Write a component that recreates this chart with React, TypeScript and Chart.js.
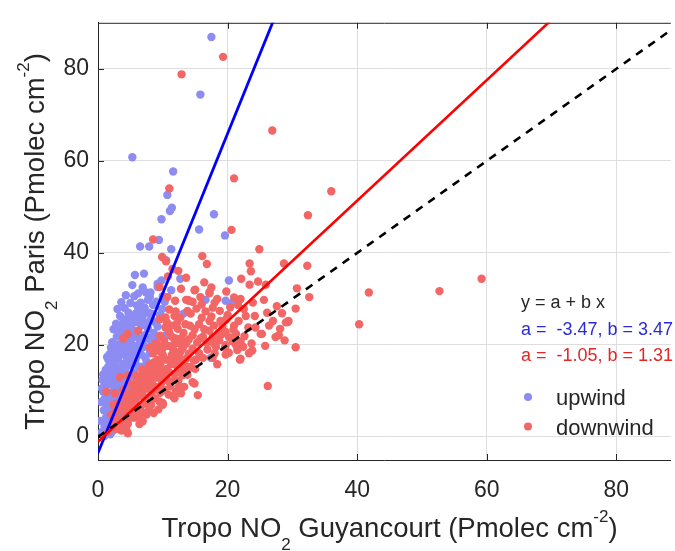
import React, { useEffect, useRef } from 'react';
import { Chart, registerables } from 'chart.js';

Chart.register(...registerables);

const FONT = '"Liberation Sans", Arial, Helvetica, sans-serif';
const TEXT_COLOR = '#262626';

const X_MIN = 0;
const X_MAX = 88.4;
const Y_MIN = -5;
const Y_MAX = 90;
const xTicks = [0, 20, 40, 60, 80];
const yTicks = [0, 20, 40, 60, 80];

const seriesLabels = ['upwind', 'downwind'];
const fitA = [-3.47, -1.05];
const fitB = [3.47, 1.31];

const upwindPoints: [number, number][] = [
  [17.5, 86.9], [15.8, 74.4], [5.3, 60.8], [11.6, 57.7], [10.7, 52.6], [11.4, 49.8], [11.1, 49.1], [9.8, 47.3],
  [17.9, 48.4], [15.6, 45.1], [19.6, 43.8], [6.5, 41.4], [7.9, 41.4], [9.4, 42.8], [11.3, 40.8], [10.5, 38.4],
  [5.7, 35.2], [7.1, 35.5], [12.7, 34.4], [20.2, 34.0], [6.9, 32.5], [9.2, 33.3], [9.8, 34.0], [9.2, 32.6],
  [11.3, 31.9], [8.0, 30.5], [7.7, 29.8], [9.0, 29.4], [10.3, 29.4], [16.6, 29.8], [19.7, 29.6], [21.0, 29.4],
  [20.7, 29.1], [8.5, 28.7], [7.2, 28.1], [6.2, 27.3], [4.7, 27.0], [3.4, 26.3], [6.9, 26.3], [8.2, 25.6],
  [5.7, 24.9], [6.7, 24.2], [7.7, 23.5], [4.6, 23.1], [5.9, 22.1], [7.2, 22.1], [10.5, 22.1], [4.1, 21.0],
  [5.1, 20.3], [6.2, 20.0], [7.2, 19.6], [8.2, 20.7], [2.6, 18.9], [3.9, 18.6], [5.1, 18.2], [6.7, 17.9],
  [8.0, 18.2], [9.5, 19.3], [10.3, 20.0], [1.6, 16.8], [3.1, 16.8], [4.6, 16.5], [13.2, 26.8], [17.4, 17.2],
  [2.6, 15.8], [3.6, 15.1], [1.6, 13.0], [1.1, 10.9], [1.8, 6.7], [2.3, 4.6], [3.1, 1.8], [1.1, 3.2],
  [0.6, 1.1], [0.8, 9.8], [0.3, 3.5], [2.1, 14.2], [2.9, 13.6], [3.8, 13.0], [4.5, 12.4], [2.4, 12.0],
  [3.3, 11.2], [1.9, 11.5], [2.7, 10.1], [3.6, 9.6], [1.5, 8.8], [2.2, 8.0], [3.0, 7.7], [1.3, 7.1],
  [2.6, 6.0], [3.4, 5.2], [1.6, 5.0], [2.0, 3.5], [2.8, 2.9], [1.4, 1.9], [2.2, 1.2], [0.9, 5.8],
  [4.2, 14.4], [5.0, 15.6], [5.6, 14.0], [4.8, 10.8], [3.9, 8.3], [4.4, 17.4], [5.8, 16.8], [6.4, 18.9],
  [7.0, 21.1], [3.3, 20.1], [2.9, 21.8], [3.8, 22.5], [2.4, 23.4], [3.6, 24.3], [4.4, 25.2], [5.2, 26.0],
  [2.2, 20.6], [1.8, 18.0], [5.4, 21.6], [6.1, 23.0], [8.9, 24.8], [9.6, 26.5], [7.8, 27.0], [6.0, 28.6],
  [5.0, 29.1], [4.1, 28.0], [8.1, 31.4], [10.0, 30.6], [9.9, 27.8], [8.6, 22.6], [9.0, 21.2], [7.5, 16.4],
  [6.8, 15.2], [3.2, 19.6], [4.7, 19.8], [2.0, 16.1], [1.2, 14.6], [0.7, 12.4], [1.0, 2.4], [1.9, 0.6],
  [0.5, 7.6], [1.0, 0.2], [4.3, 30.8], [3.0, 27.8], [5.3, 33.0], [6.2, 31.2],
  [1.2, 4.2], [1.7, 2.6], [2.5, 2.2], [3.2, 3.6], [2.9, 5.4], [2.1, 6.2], [1.0, 8.2], [1.8, 9.6],
  [2.9, 8.8], [3.7, 10.6], [2.4, 11.0], [1.4, 12.2], [2.5, 13.1], [3.4, 14.2], [1.6, 15.3], [2.9, 15.0],
  [4.0, 15.9], [2.3, 17.4], [3.4, 17.8], [5.0, 17.2], [2.0, 19.4], [3.0, 18.2], [4.2, 19.2], [5.6, 19.0],
  [2.6, 20.0], [3.8, 20.6], [4.8, 21.6], [6.4, 21.3], [3.2, 22.8], [4.3, 23.8], [5.3, 23.3], [2.8, 24.6],
  [3.9, 25.6], [5.0, 24.4], [6.4, 25.6], [7.3, 24.9], [4.8, 26.6], [5.9, 26.9], [7.0, 27.6], [3.6, 29.3],
  [5.6, 30.6], [7.4, 31.4], [6.6, 29.2], [8.3, 26.8], [9.2, 24.0], [8.0, 21.6], [6.0, 17.6], [7.3, 17.2],
  [6.2, 15.4], [5.2, 13.2], [4.3, 11.4], [3.6, 12.1], [4.6, 9.5], [3.0, 6.6], [2.0, 4.4], [4.0, 2.6],
  [0.8, 13.6], [1.4, 17.4], [0.6, 10.6],
];

const downwindPoints: [number, number][] = [
  [19.3, 82.6], [12.9, 78.8], [26.9, 66.6], [21.0, 56.2], [36.0, 53.4], [11.0, 54.0], [32.4, 48.2], [20.6, 45.0],
  [8.5, 42.9], [24.9, 40.8], [9.9, 39.1], [10.5, 38.2], [16.1, 39.3], [16.8, 37.6], [23.4, 37.7], [23.6, 36.0],
  [28.7, 37.7], [32.3, 37.2], [12.4, 36.1], [11.5, 36.5], [22.1, 34.4], [41.8, 31.4], [40.3, 24.5], [52.7, 31.7],
  [59.2, 34.4], [30.7, 32.3], [32.6, 30.4], [30.5, 27.9], [29.3, 25.0], [30.5, 19.5], [26.2, 11.1], [21.9, 16.8],
  [18.4, 15.8], [15.4, 9.1], [14.9, 11.6], [13.3, 10.9], [24.7, 33.8], [23.4, 33.1], [25.9, 33.1], [15.0, 32.0],
  [17.5, 32.5], [17.2, 31.2], [14.0, 29.6], [18.4, 30.0], [21.0, 30.3], [21.6, 28.7], [16.6, 27.3], [24.2, 26.3],
  [26.1, 27.0], [27.0, 25.2], [29.0, 24.9], [13.5, 24.5], [15.6, 24.5], [17.9, 24.2], [18.9, 25.2], [23.2, 23.8],
  [25.1, 22.4], [27.9, 22.1], [19.7, 22.8], [20.2, 21.7], [22.0, 20.7], [23.7, 20.3], [17.7, 21.7], [18.7, 21.0],
  [14.6, 22.1], [13.6, 20.3], [19.7, 20.0], [18.2, 19.6], [21.5, 18.9], [23.3, 18.2], [19.7, 17.9], [17.7, 17.2],
  [15.6, 18.2], [15.1, 16.8], [9.5, 32.6], [11.0, 27.7], [11.8, 26.3], [9.5, 25.6], [12.3, 23.5], [4.6, 22.4],
  [6.2, 23.1], [3.9, 21.4], [11.3, 24.2], [11.8, 20.3], [12.6, 18.2], [10.0, 19.3], [8.5, 18.2], [9.2, 16.8],
  [10.5, 16.8], [13.9, 29.8], [14.9, 31.9], [3.4, 13.0], [4.6, 13.3], [5.9, 13.3], [7.2, 14.0], [8.5, 13.7],
  [9.8, 14.4], [11.3, 15.8], [12.3, 15.1], [11.8, 13.7], [1.3, 9.8], [2.6, 9.5], [3.9, 10.2], [5.2, 9.8],
  [6.4, 10.2], [7.7, 10.5], [9.0, 10.9], [10.3, 10.2], [3.1, 7.4], [4.4, 7.7], [5.7, 7.4], [7.2, 7.4],
  [10.0, 7.4], [11.6, 8.8], [12.8, 9.5], [2.6, 5.3], [4.1, 4.9], [6.2, 5.3], [4.6, 2.8], [6.4, 2.8],
  [3.6, 1.4], [1.6, 1.1], [4.4, 1.4], [4.6, 0.8], [23.8, 18.8], [22.0, 17.0], [14.6, 11.9], [12.0, 9.8],
  [11.8, 8.4], [9.5, 7.7], [10.0, 7.0], [7.5, 4.9], [6.2, 5.6], [27.4, 21.7], [28.1, 23.5], [29.4, 25.2],
  [25.3, 22.4], [24.3, 23.8], [21.3, 22.4], [22.8, 26.3], [17.7, 28.1], [14.6, 29.4], [13.6, 29.8], [12.0, 27.3],
  [16.4, 33.6], [17.2, 31.5], [5.0, 11.5], [6.0, 12.0], [6.8, 11.6], [7.6, 12.6], [8.3, 11.8], [9.1, 12.9],
  [10.6, 12.5], [11.2, 11.0], [12.4, 12.2], [13.8, 13.5], [14.2, 15.2], [13.0, 16.6], [12.0, 17.2], [14.0, 18.1],
  [16.9, 19.0], [15.3, 20.5], [16.2, 21.8], [14.9, 23.4], [13.2, 22.6], [12.0, 21.4], [11.0, 22.7], [10.4, 23.8],
  [9.6, 22.0], [8.9, 20.4], [8.0, 19.4], [7.9, 15.6], [9.0, 15.0], [10.0, 17.8], [11.6, 19.0], [13.1, 19.4],
  [12.7, 14.6], [11.0, 14.0], [9.9, 12.0], [8.2, 9.2], [7.0, 8.8], [6.0, 8.5], [5.0, 8.2], [4.2, 6.4],
  [5.3, 6.0], [3.0, 4.0], [2.2, 2.6], [3.5, 3.0], [8.8, 8.4], [9.6, 9.6], [10.9, 9.2], [12.5, 11.0],
  [20.2, 18.3], [19.6, 19.4], [21.3, 20.0], [22.6, 21.9], [20.9, 23.3], [19.2, 24.1], [17.2, 23.1], [16.0, 25.9],
  [17.5, 26.2], [18.8, 27.4], [20.0, 26.5], [21.7, 25.2], [22.5, 27.8], [19.8, 31.6], [15.8, 30.4], [12.8, 32.2],
  [13.6, 34.6], [10.8, 34.9], [7.5, 11.2], [2.4, 7.0], [4.7, 3.8], [5.6, 4.2], [7.9, 6.3], [8.6, 5.2],
  [6.9, 3.4], [9.3, 6.0], [10.4, 26.0], [12.7, 25.9], [14.3, 26.8], [15.2, 27.9], [11.9, 29.6], [10.7, 30.4],
  [23.9, 29.2], [25.6, 29.8], [27.6, 28.4], [26.4, 24.2], [28.4, 26.9], [25.8, 19.8], [28.8, 21.0],
  [2.0, 4.8], [3.0, 5.8], [3.8, 6.9], [5.0, 7.0], [6.6, 6.6], [8.2, 7.0], [4.2, 8.8], [5.6, 9.0],
  [6.8, 9.6], [8.4, 10.0], [9.6, 11.0], [5.8, 10.8], [7.0, 11.0], [8.2, 12.6], [10.2, 13.4], [11.8, 12.4],
  [13.0, 13.4], [6.6, 13.2], [7.8, 13.6], [9.2, 14.0], [10.6, 14.8], [12.0, 15.8], [13.4, 15.6], [6.8, 14.6],
  [8.0, 15.0], [9.6, 15.8], [11.0, 16.8], [13.6, 17.0], [8.6, 16.2], [9.8, 16.6], [11.4, 17.8], [12.8, 18.8],
  [14.6, 19.2], [8.4, 19.0], [9.6, 18.6], [10.8, 19.8], [12.4, 20.4], [14.0, 21.2], [15.8, 21.4], [9.2, 20.0],
  [10.2, 21.0], [11.4, 21.8], [12.8, 21.4], [16.8, 20.6], [17.8, 20.4], [18.6, 22.6], [16.4, 23.4], [14.2, 24.2],
  [12.2, 24.8], [10.6, 25.0], [17.2, 25.2], [19.8, 25.6], [21.0, 24.2], [13.8, 27.4], [16.0, 28.8], [18.0, 29.2],
  [20.4, 28.2], [22.0, 30.0], [19.0, 22.2], [20.8, 20.8], [22.4, 19.6], [18.0, 18.2], [16.2, 17.2], [14.8, 16.6],
  [15.0, 14.8], [13.8, 14.4], [11.0, 12.0], [7.2, 5.2], [8.0, 8.0], [6.4, 4.2], [5.0, 5.2], [3.8, 3.6],
  [2.8, 1.8], [2.4, 3.8],
];

const fitHeader = 'y = a + b x';
const fitTextColors = ['#2b2bd6', '#e32626'];
const pointColors = ['#8c8cf2', '#f26666'];
const lineColors = ['#0000ff', '#ff0000'];

type Part = { t: string; s: number };
const xTitleParts: Part[] = [
  { t: 'Tropo NO', s: 0 }, { t: '2', s: -1 }, { t: ' Guyancourt (Pmolec cm', s: 0 }, { t: '-2', s: 1 }, { t: ')', s: 0 },
];
const yTitleParts: Part[] = [
  { t: 'Tropo NO', s: 0 }, { t: '2', s: -1 }, { t: ' Paris (Pmolec cm', s: 0 }, { t: '-2', s: 1 }, { t: ')', s: 0 },
];

const TITLE_SIZE = 27.5;
const SCRIPT_SIZE = 17;

function drawRich(ctx: CanvasRenderingContext2D, parts: Part[]) {
  const fontFor = (p: Part) => `${p.s === 0 ? TITLE_SIZE : SCRIPT_SIZE}px ${FONT}`;
  let total = 0;
  for (const p of parts) {
    ctx.font = fontFor(p);
    total += ctx.measureText(p.t).width;
  }
  let x = -total / 2;
  ctx.textBaseline = 'alphabetic';
  ctx.textAlign = 'left';
  for (const p of parts) {
    ctx.font = fontFor(p);
    const dy = p.s === -1 ? 13 : p.s === 1 ? -15 : 0;
    ctx.fillText(p.t, x, dy);
    x += ctx.measureText(p.t).width;
  }
}

const decorPlugin = {
  id: 'decor',
  beforeDatasetsDraw(chart: any) {
    const { ctx, chartArea: ca, scales } = chart;
    ctx.save();
    ctx.strokeStyle = TEXT_COLOR;
    ctx.lineWidth = 1;
    ctx.beginPath();
    ctx.moveTo(ca.left, ca.top + 0.5);
    ctx.lineTo(ca.right, ca.top + 0.5);
    for (const v of xTicks) {
      const px = Math.round(scales.x.getPixelForValue(v)) + 0.5;
      ctx.moveTo(px, ca.bottom);
      ctx.lineTo(px, ca.bottom - 6);
      ctx.moveTo(px, ca.top);
      ctx.lineTo(px, ca.top + 6);
    }
    for (const v of yTicks) {
      const py = Math.round(scales.y.getPixelForValue(v)) + 0.5;
      ctx.moveTo(ca.left, py);
      ctx.lineTo(ca.left + 6, py);
    }
    ctx.stroke();
    ctx.restore();
  },
  afterDraw(chart: any) {
    const { ctx, chartArea: ca, scales } = chart;
    ctx.save();
    ctx.fillStyle = TEXT_COLOR;
    const xCenter = (scales.x.getPixelForValue(0) + scales.x.getPixelForValue(90)) / 2;
    ctx.save();
    ctx.translate(xCenter, 537);
    drawRich(ctx, xTitleParts);
    ctx.restore();
    ctx.save();
    ctx.translate(44, (ca.top + ca.bottom) / 2);
    ctx.rotate(-Math.PI / 2);
    drawRich(ctx, yTitleParts);
    ctx.restore();

    ctx.textAlign = 'left';
    ctx.textBaseline = 'alphabetic';
    ctx.font = `18px ${FONT}`;
    const tx = 521;
    ctx.fillStyle = TEXT_COLOR;
    ctx.fillText(fitHeader, tx, 308);
    for (let i = 0; i < seriesLabels.length; i++) {
      ctx.fillStyle = fitTextColors[i];
      ctx.fillText(`a =  ${fitA[i].toFixed(2)}, b = ${fitB[i].toFixed(2)}`, tx, 335 + i * 26);
    }
    ctx.font = `22px ${FONT}`;
    for (let i = 0; i < seriesLabels.length; i++) {
      const cy = 397 + i * 29.5;
      ctx.fillStyle = pointColors[i];
      ctx.beginPath();
      ctx.arc(528, cy, 4, 0, Math.PI * 2);
      ctx.fill();
      ctx.fillStyle = TEXT_COLOR;
      ctx.fillText(seriesLabels[i], 556, cy + 8);
    }
    ctx.restore();
  },
};

function fitLine(i: number) {
  return [
    { x: X_MIN, y: fitA[i] + fitB[i] * X_MIN },
    { x: X_MAX, y: fitA[i] + fitB[i] * X_MAX },
  ];
}

export default function App() {
  const canvasRef = useRef<HTMLCanvasElement | null>(null);

  useEffect(() => {
    const canvas = canvasRef.current;
    if (!canvas) return;
    const chart = new Chart(canvas, {
      type: 'scatter',
      data: {
        datasets: [
          {
            label: '1:1',
            data: [{ x: X_MIN, y: X_MIN }, { x: X_MAX, y: X_MAX }],
            showLine: true,
            borderColor: '#000000',
            borderWidth: 2.6,
            borderDash: [8, 7],
            pointRadius: 0,
            order: 0,
            clip: 0,
          } as any,
          {
            label: 'fit ' + seriesLabels[1],
            data: fitLine(1),
            showLine: true,
            borderColor: lineColors[1],
            borderWidth: 2.6,
            pointRadius: 0,
            order: 1,
            clip: 0,
          } as any,
          {
            label: 'fit ' + seriesLabels[0],
            data: fitLine(0),
            showLine: true,
            borderColor: lineColors[0],
            borderWidth: 2.8,
            pointRadius: 0,
            order: 2,
            clip: 0,
          } as any,
          {
            label: seriesLabels[1],
            data: downwindPoints.map(([x, y]) => ({ x, y })),
            backgroundColor: pointColors[1],
            borderWidth: 0,
            pointRadius: 4.2,
            pointHoverRadius: 4.2,
            order: 3,
          },
          {
            label: seriesLabels[0],
            data: upwindPoints.map(([x, y]) => ({ x, y })),
            backgroundColor: pointColors[0],
            borderWidth: 0,
            pointRadius: 4.2,
            pointHoverRadius: 4.2,
            order: 4,
          },
        ],
      },
      options: {
        responsive: false,
        animation: false,
        events: [],
        layout: { padding: { top: 9, right: 0, left: 0, bottom: 0 } },
        plugins: {
          legend: { display: false },
          tooltip: { enabled: false },
          title: { display: false },
        },
        scales: {
          x: {
            type: 'linear',
            min: X_MIN,
            max: X_MAX,
            afterBuildTicks: (s: any) => {
              s.ticks = xTicks.map((v) => ({ value: v }));
            },
            afterFit: (s: any) => {
              s.height = 91;
            },
            grid: { color: '#dedede', lineWidth: 1, drawTicks: false },
            border: { color: TEXT_COLOR, width: 1 },
            ticks: {
              font: { size: 23, family: FONT },
              color: TEXT_COLOR,
              padding: 17,
              maxRotation: 0,
              autoSkip: false,
            },
          },
          y: {
            type: 'linear',
            min: Y_MIN,
            max: Y_MAX,
            afterBuildTicks: (s: any) => {
              s.ticks = yTicks.map((v) => ({ value: v }));
            },
            afterFit: (s: any) => {
              s.width = 98;
            },
            grid: { color: '#dedede', lineWidth: 1, drawTicks: false },
            border: { color: TEXT_COLOR, width: 1 },
            ticks: {
              font: { size: 23, family: FONT },
              color: TEXT_COLOR,
              padding: 9,
              autoSkip: false,
            },
          },
        },
      },
      plugins: [decorPlugin],
    });
    return () => chart.destroy();
  }, []);

  return (
    <div style={{ position: 'fixed', left: 0, top: 0, width: 675, height: 551, background: '#ffffff' }}>
      <canvas ref={canvasRef} width={675} height={551} style={{ display: 'block' }} />
    </div>
  );
}
